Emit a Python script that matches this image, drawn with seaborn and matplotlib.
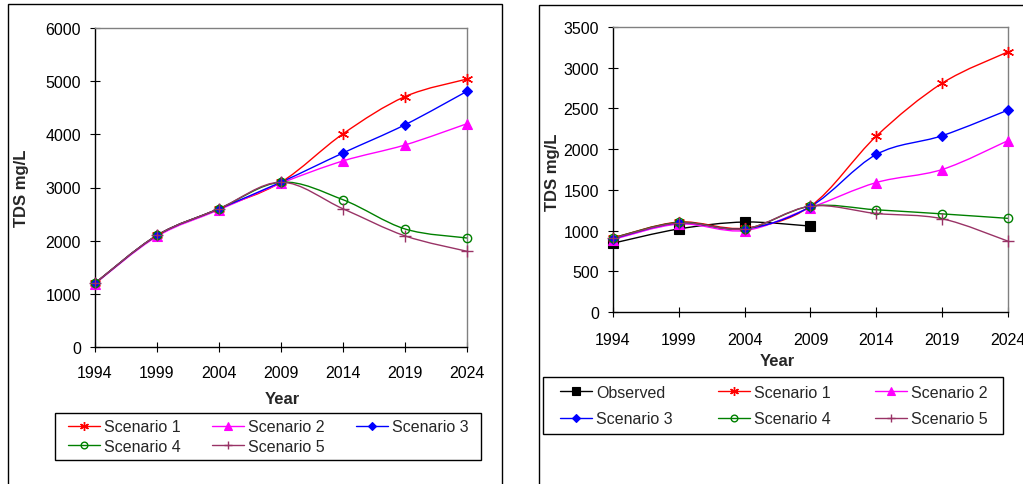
import numpy as np
import pandas as pd
import matplotlib
matplotlib.use("Agg")
import matplotlib.pyplot as plt
import seaborn as sns
from matplotlib.path import Path
from matplotlib.patches import PathPatch, Rectangle
from matplotlib.lines import Line2D

# ---------------- data ----------------
years = [1994, 1999, 2004, 2009, 2014, 2019, 2024]

left_s1 = [1200, 2100, 2600, 3100, 4010, 4710, 5040]
left_s2 = [1190, 2080, 2580, 3080, 3500, 3800, 4200]
left_s3 = [1200, 2100, 2600, 3100, 3650, 4180, 4810]
left_s4 = [1200, 2100, 2600, 3100, 2770, 2220, 2050]
left_s5 = [1200, 2100, 2600, 3100, 2600, 2090, 1800]

obs_years = [1994, 1999, 2004, 2009]
right_obs = [845, 1020, 1105, 1055]
right_s1 = [910, 1105, 1030, 1300, 2160, 2810, 3195]
right_s2 = [890, 1080, 1000, 1280, 1590, 1750, 2105]
right_s3 = [900, 1095, 1020, 1295, 1935, 2165, 2480]
right_s4 = [910, 1100, 1020, 1300, 1255, 1205, 1150]
right_s5 = [905, 1095, 1020, 1300, 1210, 1145, 870]

left_yticks = [0, 1000, 2000, 3000, 4000, 5000, 6000]
right_yticks = [0, 500, 1000, 1500, 2000, 2500, 3000, 3500]

# ---------------- styles ----------------
STYLES = {
    "Observed":   dict(color="#000000", marker="s", ms=6.5, mfc="#000000", mew=0.8),
    "Scenario 1": dict(color="#FF0000", marker=(6, 2, 0), ms=8, mfc="none", mew=1.0),
    "Scenario 2": dict(color="#FF00FF", marker="^", ms=7.5, mfc="#FF00FF", mew=0.8),
    "Scenario 3": dict(color="#0000FF", marker="D", ms=5.5, mfc="#0000FF", mew=0.8),
    "Scenario 4": dict(color="#008000", marker="o", ms=6, mfc="none", mew=1.0),
    "Scenario 5": dict(color="#993366", marker="+", ms=8, mfc="none", mew=1.0),
}

sns.set_style("white")
plt.rcParams["font.family"] = ["Liberation Sans", "DejaVu Sans"]

FS = 11.5


def smooth_path(x, y):
    x = np.asarray(x, float)
    y = np.asarray(y, float)
    n = len(x)
    verts = [(x[0], y[0])]
    codes = [Path.MOVETO]
    for i in range(n - 1):
        xp, yp = (x[i - 1], y[i - 1]) if i > 0 else (x[i], y[i])
        xn, yn = (x[i + 2], y[i + 2]) if i + 2 < n else (x[i + 1], y[i + 1])
        c1 = (x[i] + (x[i + 1] - xp) / 6.0, y[i] + (y[i + 1] - yp) / 6.0)
        c2 = (x[i + 1] - (xn - x[i]) / 6.0, y[i + 1] - (yn - y[i]) / 6.0)
        verts += [c1, c2, (x[i + 1], y[i + 1])]
        codes += [Path.CURVE4] * 3
    return Path(verts, codes)


def draw_series(ax, xs, ys, name):
    st = STYLES[name]
    patch = PathPatch(smooth_path(xs, ys), fill=False, edgecolor=st["color"],
                      lw=1.0, transform=ax.transData, clip_on=False, zorder=2)
    ax.add_patch(patch)
    df = pd.DataFrame({"Year": xs, "TDS": ys})
    sns.lineplot(data=df, x="Year", y="TDS", ax=ax, linestyle="none",
                 marker=st["marker"], markersize=st["ms"], color=st["color"],
                 markeredgecolor=st["color"], markerfacecolor=st["mfc"],
                 markeredgewidth=st["mew"], clip_on=False, zorder=3)


def handle(name):
    st = STYLES[name]
    return Line2D([], [], color=st["color"], lw=1.0, marker=st["marker"],
                  markersize=st["ms"] * 0.8, markeredgecolor=st["color"],
                  markerfacecolor=st["mfc"], markeredgewidth=st["mew"])


def row_major(names, ncol):
    # reorder so matplotlib's column-major legend fill reads row by row
    n = len(names)
    nrows = int(np.ceil(n / ncol))
    out = []
    for c in range(ncol):
        for r in range(nrows):
            i = r * ncol + c
            if i < n:
                out.append(names[i])
    return out


def style_axes(ax, ymax, yticks, xpad):
    ax.set_xlim(1994, 2024)
    ax.set_ylim(0, ymax)
    ax.set_xticks(years)
    ax.set_xticklabels([str(y) for y in years])
    ax.set_yticks(yticks)
    ax.set_yticklabels([str(v) for v in yticks])
    ax.set_xlabel("")
    ax.set_ylabel("")
    for s in ["top", "right"]:
        ax.spines[s].set_color("#808080")
        ax.spines[s].set_linewidth(1.0)
    for s in ["left", "bottom"]:
        ax.spines[s].set_color("#000000")
        ax.spines[s].set_linewidth(1.0)
    ax.tick_params(axis="x", direction="inout", length=7.5, width=0.8,
                   pad=xpad, labelsize=FS, colors="black", bottom=True)
    ax.tick_params(axis="y", direction="inout", length=7.5, width=0.8,
                   pad=6.3, labelsize=FS, colors="black", left=True)
    ax.grid(False)
    ax.set_facecolor("white")


W, H = 1023, 485
fig = plt.figure(figsize=(W / 100, H / 100), dpi=100)


def fig_rect(x0, y0, x1, y1):
    # pixel box (top-left origin) -> figure rectangle
    fig.patches.append(Rectangle((x0 / W, 1 - y1 / H), (x1 - x0) / W, (y1 - y0) / H,
                                 transform=fig.transFigure, fill=False,
                                 edgecolor="black", lw=1.0))


# panel frames
fig_rect(8, 5, 502, 510)
fig_rect(539, 6, 1080, 510)

# ---------------- left ----------------
axL = fig.add_axes([95 / W, 1 - 348 / H, (467 - 95) / W, (348 - 29) / H])
left_series = [("Scenario 1", left_s1), ("Scenario 2", left_s2),
               ("Scenario 3", left_s3), ("Scenario 4", left_s4),
               ("Scenario 5", left_s5)]
for name, vals in left_series:
    draw_series(axL, years, vals, name)
style_axes(axL, 6000, left_yticks, 9.0)
fig.text(282 / W, 1 - 400 / H, "Year", ha="center", va="center",
         fontsize=12, fontweight="bold")
fig.text(22 / W, 1 - 188 / H, "TDS mg/L", ha="center", va="center",
         rotation=90, fontsize=12, fontweight="bold")
fig_rect(55, 414, 481, 461)
names_L = row_major([n for n, _ in left_series], 3)
fig.legend([handle(n) for n in names_L], names_L, ncol=3,
           loc="center", mode="expand",
           bbox_to_anchor=(68 / W, 1 - 461 / H, (469 - 68) / W, 47 / H),
           fontsize=FS, frameon=False, handlelength=2.0, handletextpad=0.25,
           labelspacing=0.3, borderpad=0.0, borderaxespad=0,
           columnspacing=1.0)

# ---------------- right ----------------
axR = fig.add_axes([613 / W, 1 - 313 / H, (1008 - 613) / W, (313 - 28) / H])
draw_series(axR, obs_years, right_obs, "Observed")
right_series = [("Scenario 1", right_s1), ("Scenario 2", right_s2),
                ("Scenario 3", right_s3), ("Scenario 4", right_s4),
                ("Scenario 5", right_s5)]
for name, vals in right_series:
    draw_series(axR, years, vals, name)
style_axes(axR, 3500, right_yticks, 11.0)
fig.text(777 / W, 1 - 362 / H, "Year", ha="center", va="center",
         fontsize=12, fontweight="bold")
fig.text(553 / W, 1 - 172 / H, "TDS mg/L", ha="center", va="center",
         rotation=90, fontsize=12, fontweight="bold")
fig_rect(543, 378, 1003, 435)
names_R = row_major(["Observed"] + [n for n, _ in right_series], 3)
fig.legend([handle(n) for n in names_R], names_R, ncol=3,
           loc="center", mode="expand",
           bbox_to_anchor=(560 / W, 1 - 435 / H, (988 - 560) / W, 57 / H),
           fontsize=FS, frameon=False, handlelength=2.0, handletextpad=0.25,
           labelspacing=0.75, borderpad=0.0, borderaxespad=0,
           columnspacing=1.0)

fig.savefig("out.png", dpi=100, facecolor="white")
